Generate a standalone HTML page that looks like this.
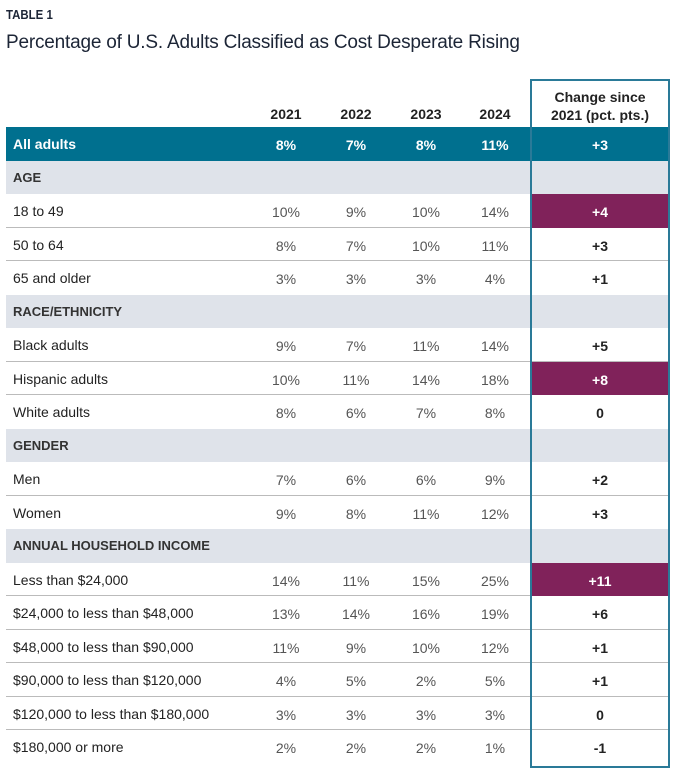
<!DOCTYPE html>
<html><head><meta charset="utf-8">
<style>
body{margin:0;background:#fff;width:679px;height:773px;overflow:hidden;position:relative;font-family:"Liberation Sans",sans-serif;color:#222}
.a{position:absolute}
.c{position:absolute;text-align:center;font-size:14px;color:#555}
</style></head><body>
<div class="a" style="left:6px;top:7px;font-size:13px;font-weight:bold;color:#1c2536;transform:scaleX(0.88);transform-origin:left">TABLE 1</div>
<div class="a" style="left:6px;top:32px;font-size:19px;color:#1c2536;letter-spacing:-0.2px">Percentage of U.S. Adults Classified as Cost Desperate Rising</div>
<div id="t"></div>
<script>
const years=["2021","2022","2023","2024"];
const labels=["All adults","AGE","18 to 49","50 to 64","65 and older","RACE/ETHNICITY","Black adults","Hispanic adults","White adults","GENDER","Men","Women","ANNUAL HOUSEHOLD INCOME","Less than $24,000","$24,000 to less than $48,000","$48,000 to less than $90,000","$90,000 to less than $120,000","$120,000 to less than $180,000","$180,000 or more"];
const kinds=["total","sec","row","row","row","sec","row","row","row","sec","row","row","sec","row","row","row","row","row","row"];
const v2021=[8,null,10,8,3,null,9,10,8,null,7,9,null,14,13,11,4,3,2];
const v2022=[7,null,9,7,3,null,7,11,6,null,6,8,null,11,14,9,5,3,2];
const v2023=[8,null,10,10,3,null,11,14,7,null,6,11,null,15,16,10,2,3,2];
const v2024=[11,null,14,11,4,null,14,18,8,null,9,12,null,25,19,12,5,3,1];
const changes=["+3",null,"+4","+3","+1",null,"+5","+8","0",null,"+2","+3",null,"+11","+6","+1","+1","0","-1"];
const highlight=[false,false,true,false,false,false,false,true,false,false,false,false,false,true,false,false,false,false,false];
const vals=[v2021,v2022,v2023,v2024];
const colX=[286,356,426,495];
const L=6,R=669,CL=531,top0=127,rh=33.5;
const t=document.getElementById('t');
function mk(css,txt){const d=document.createElement('div');d.className='a';d.style.cssText=css;if(txt!=null)d.textContent=txt;t.appendChild(d);return d;}
// header
years.forEach((y,i)=>{const d=mk(`left:${colX[i]-30}px;width:60px;top:106px;text-align:center;font-size:14px;font-weight:bold;color:#222`,y);

});
const ch=mk(`left:${CL}px;width:${R-CL}px;top:88px;text-align:center;font-size:14px;font-weight:bold;color:#222;line-height:18px`,null);
ch.innerHTML='Change since<br>2021 (pct. pts.)';


labels.forEach((lab,r)=>{
 const y=top0+r*rh,k=kinds[r];
 const bg=k==='total'?'#00708f':k==='sec'?'#dfe3ea':'#fff';
 const row=mk(`left:${L}px;width:${R-L}px;top:${y}px;height:${rh+0.5}px;background:${bg}`,null);
 
 
 if(k==='row'&&kinds[r+1]==='row'){const s=mk(`left:${L}px;width:${CL-L}px;top:${y+rh-1}px;height:2px;background:#bbb`,null);
  
  }
 const col=k==='total'?'#fff':'#222';
 const lb=mk(`left:13px;top:${y+9}px;font-size:${k==='sec'?13:14}px;font-weight:${k==='row'?'normal':'bold'};color:${k==='sec'?'#333':col}`,lab);
 
 
 if(k==='sec')return;
 vals.forEach((a,i)=>{const c=mk(`left:${colX[i]-30}px;width:60px;top:${y+10}px;text-align:center;font-size:14px;color:${k==='total'?'#fff':'#555'};font-weight:${k==='total'?'bold':'normal'}`,a[r]+'%');
  
  });
 if(highlight[r]){const h=mk(`left:${CL}px;width:${R-CL}px;top:${y}px;height:${rh}px;background:#80225a`,null);
  
  }
 else if(k==='row'&&kinds[r+1]==='row'){const s=mk(`left:${CL}px;width:${R-CL}px;top:${y+rh-1}px;height:2px;background:#bbb`,null);
  
  }
 const cc=mk(`left:${CL}px;width:${R-CL}px;top:${y+10}px;text-align:center;font-size:14px;font-weight:bold;color:${(k==='total'||highlight[r])?'#fff':'#222'}`,changes[r]);
 
 
});
const box=mk(`left:${CL-1}px;top:79px;width:${R-CL-2}px;height:${top0+labels.length*rh-79}px;border:2px solid #2a7a98;box-sizing:content-box;pointer-events:none`,null);


</script>
</body></html>
